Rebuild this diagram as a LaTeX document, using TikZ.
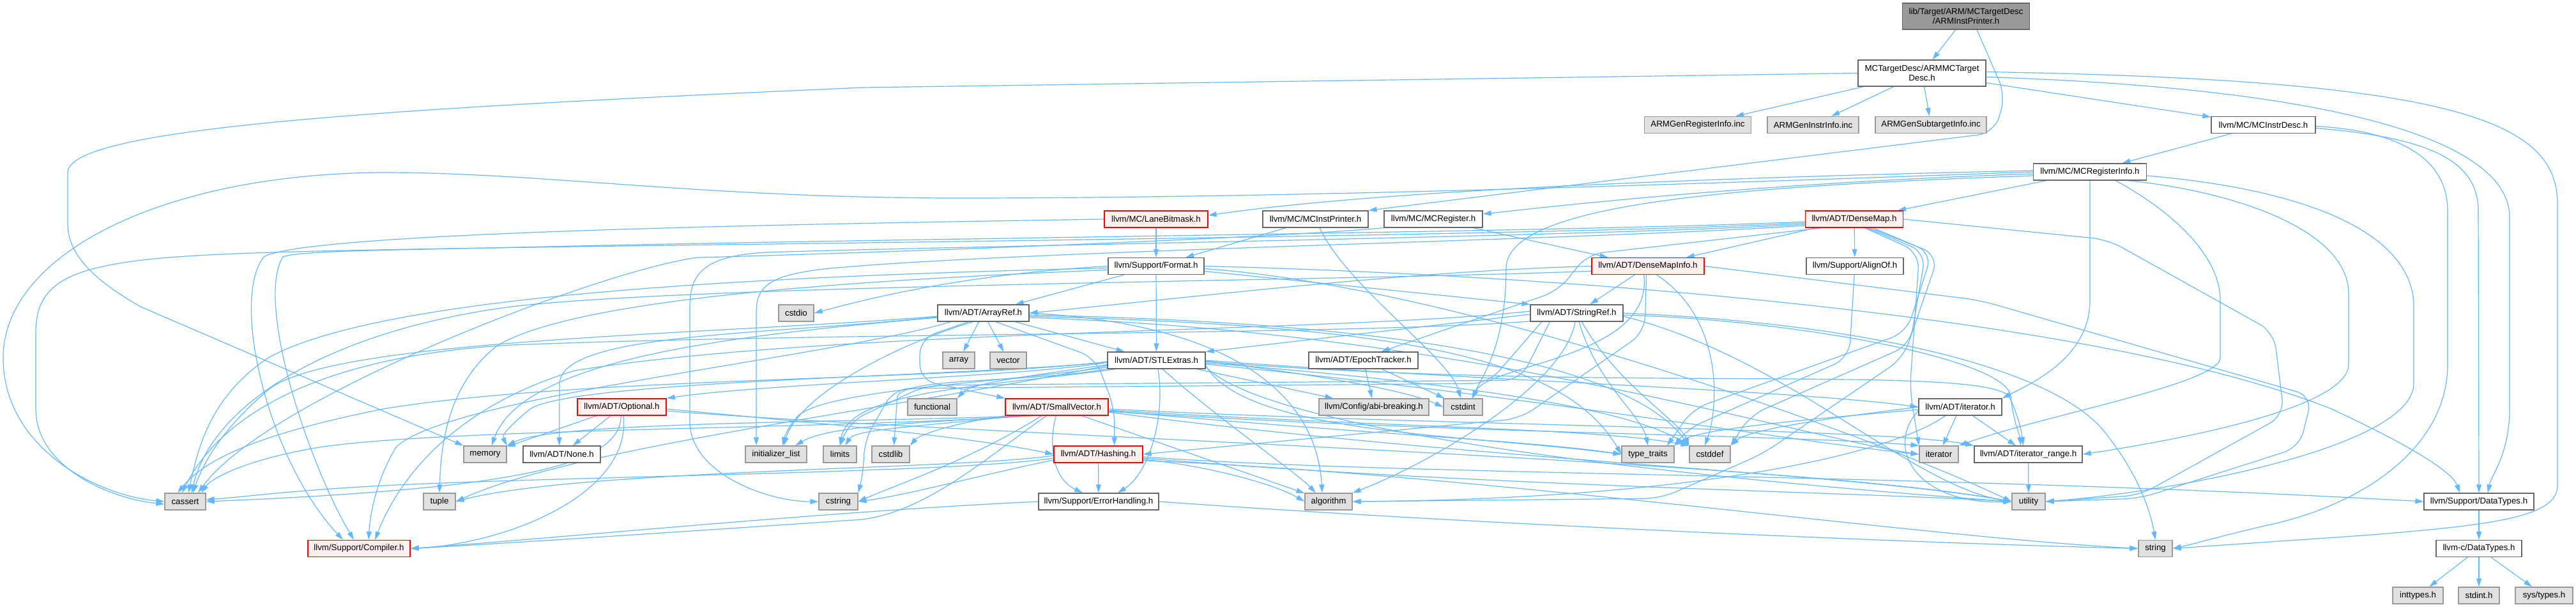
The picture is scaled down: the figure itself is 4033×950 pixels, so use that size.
\documentclass[tikz,border=0pt]{standalone}
\usepackage{fontspec}
\setmainfont{Liberation Sans}
\usetikzlibrary{arrows.meta,backgrounds}
\definecolor{edgeblue}{HTML}{63B8FF}
\definecolor{nodegray}{HTML}{666666}
\definecolor{extgray}{HTML}{999999}
\definecolor{extfill}{HTML}{E0E0E0}
\definecolor{truncfill}{HTML}{FFF0F0}
\definecolor{rootfill}{HTML}{999999}
\newcommand{\dxfont}{\fontsize{13.3pt}{14.6pt}\selectfont}
\tikzset{
  wbox/.style={draw=nodegray, fill=white, line width=1.3pt, minimum height=26pt, inner sep=0pt, font=\dxfont, text=black},
  gbox/.style={wbox, draw=extgray, fill=extfill},
  rbox/.style={wbox, draw=red, fill=truncfill},
  rootbox/.style={wbox, fill=rootfill, minimum height=41pt, align=center},
  twobox/.style={wbox, minimum height=41pt, align=center},
  edg/.style={draw=edgeblue, line width=1.2pt, -{Triangle[length=13pt,width=8pt]}},
  rc/.style={rounded corners=25pt},
}
\begin{document}
\begin{tikzpicture}[x=1pt,y=-1pt]
\useasboundingbox (0,0) rectangle (4033,950);
% ---------- nodes ----------
\node[rootbox, minimum width=199pt] (root) at (3078,25.5) {lib/Target/ARM/MCTargetDesc\\/ARMInstPrinter.h};
\node[twobox, minimum width=200pt] (tdesc) at (3009,114.5) {MCTargetDesc/ARMMCTarget\\Desc.h};
\node[gbox, minimum width=167pt] (genreg) at (2658,195.5) {ARMGenRegisterInfo.inc};
\node[gbox, minimum width=143pt] (geninstr) at (2838.5,195.5) {ARMGenInstrInfo.inc};
\node[gbox, minimum width=174pt] (gensub) at (3023,195.5) {ARMGenSubtargetInfo.inc};
\node[wbox, minimum width=163pt] (instrdesc) at (3543.5,195.5) {llvm/MC/MCInstrDesc.h};
\node[wbox, minimum width=177pt] (reginfo) at (3272,269) {llvm/MC/MCRegisterInfo.h};
\node[rbox, minimum width=162pt] (lanebm) at (1810,343) {llvm/MC/LaneBitmask.h};
\node[wbox, minimum width=165pt] (instprinter) at (2059.5,343) {llvm/MC/MCInstPrinter.h};
\node[wbox, minimum width=154pt] (mcregister) at (2244,343) {llvm/MC/MCRegister.h};
\node[rbox, minimum width=153pt] (densemap) at (2903,343) {llvm/ADT/DenseMap.h};
\node[wbox, minimum width=150pt] (format) at (1810,416.5) {llvm/Support/Format.h};
\node[rbox, minimum width=176pt] (dmi) at (2580,416.5) {llvm/ADT/DenseMapInfo.h};
\node[wbox, minimum width=152pt] (alignof) at (2904,416.5) {llvm/Support/AlignOf.h};
\node[gbox, minimum width=55pt] (cstdio) at (1246.5,490) {cstdio};
\node[wbox, minimum width=143pt] (arrayref) at (1539.5,490) {llvm/ADT/ArrayRef.h};
\node[wbox, minimum width=145pt] (stringref) at (2468.5,490) {llvm/ADT/StringRef.h};
\node[gbox, minimum width=50pt] (array) at (1501,564) {array};
\node[gbox, minimum width=57pt] (vector) at (1578.5,564) {vector};
\node[wbox, minimum width=153pt] (stlextras) at (1810.5,564) {llvm/ADT/STLExtras.h};
\node[wbox, minimum width=171pt] (epoch) at (2134.5,564) {llvm/ADT/EpochTracker.h};
\node[rbox, minimum width=139pt] (optional) at (973.5,637) {llvm/ADT/Optional.h};
\node[gbox, minimum width=77pt] (functional) at (1459.5,637) {functional};
\node[rbox, minimum width=161pt] (smallvector) at (1654.5,637) {llvm/ADT/SmallVector.h};
\node[gbox, minimum width=172pt] (abi) at (2151,637) {llvm/Config/abi-breaking.h};
\node[gbox, minimum width=61pt] (cstdint) at (2290.5,637) {cstdint};
\node[wbox, minimum width=130pt] (iteratorh) at (3069,637) {llvm/ADT/iterator.h};
\node[gbox, minimum width=67pt] (memory) at (759.5,711) {memory};
\node[wbox, minimum width=121pt] (noneh) at (879.5,711) {llvm/ADT/None.h};
\node[gbox, minimum width=96pt] (initlist) at (1215,711) {initializer\_list};
\node[gbox, minimum width=52pt] (limits) at (1315,711) {limits};
\node[gbox, minimum width=59pt] (cstdlib) at (1394.5,711) {cstdlib};
\node[rbox, minimum width=139pt] (hashing) at (1719.5,711) {llvm/ADT/Hashing.h};
\node[gbox, minimum width=82pt] (typetraits) at (2580,711) {type\_traits};
\node[gbox, minimum width=64pt] (cstddef) at (2677,711) {cstddef};
\node[gbox, minimum width=61pt] (iterator) at (3035.5,711) {iterator};
\node[wbox, minimum width=169pt] (iterrange) at (3175.5,711) {llvm/ADT/iterator\_range.h};
\node[gbox, minimum width=64pt] (cassert) at (290,785) {cassert};
\node[gbox, minimum width=50pt] (tuple) at (688,785) {tuple};
\node[gbox, minimum width=61pt] (cstring) at (1312.5,785) {cstring};
\node[wbox, minimum width=188pt] (errorh) at (1720,785) {llvm/Support/ErrorHandling.h};
\node[gbox, minimum width=74pt] (algorithm) at (2080,785) {algorithm};
\node[gbox, minimum width=52pt] (utility) at (3176,785) {utility};
\node[wbox, minimum width=172pt] (datatypes) at (3881,785) {llvm/Support/DataTypes.h};
\node[rbox, minimum width=160pt] (compiler) at (562,858.5) {llvm/Support/Compiler.h};
\node[gbox, minimum width=53pt] (string) at (3374.5,858.5) {string};
\node[wbox, minimum width=134pt] (cdatatypes) at (3881,858.5) {llvm-c/DataTypes.h};
\node[gbox, minimum width=79pt] (inttypes) at (3785.5,932) {inttypes.h};
\node[gbox, minimum width=64pt] (stdint) at (3881,932) {stdint.h};
\node[gbox, minimum width=90pt] (systypes) at (3983,932) {sys/types.h};
% ---------- edges ----------
\begin{pgfonlayer}{background}
% root
\draw[edg] (root) -- (tdesc);
\draw[edg, rc] ([xshift=17pt]root.south) -- (3140,150) -- (3122,208) -- (instprinter.north east);
% ARMMCTargetDesc.h
\draw[edg] (tdesc) -- (genreg);
\draw[edg] (tdesc) -- (geninstr);
\draw[edg] (tdesc) -- (gensub);
\draw[edg] (tdesc) -- (instrdesc);
\draw[edg] ([yshift=-6pt]tdesc.east) .. controls (3700,140) and (3929,230) .. (3929,340) -- (3929,640) .. controls (3929,710) and (3900,745) .. ([xshift=14pt]datatypes.north);
\draw[edg] ([yshift=2pt]tdesc.east) .. controls (3850,125) and (4004,190) .. (4004,320) -- (4004,760) .. controls (4004,810) and (3900,822) .. (3700,838) -- (string.east);
\draw[edg] (tdesc.west) -- (1350,137) .. controls (600,170) and (106,200) .. (106,270) -- (106,350) .. controls (106,400) and (150,440) .. (220,480) -- (memory.north west);
% MCInstrDesc.h
\draw[edg] (instrdesc) -- (reginfo);
\draw[edg] ([yshift=-5pt]instrdesc.east) .. controls (3800,215) and (3880,250) .. (3880,330) -- (datatypes.north);
\draw[edg] ([yshift=-2pt]instrdesc.east) .. controls (3760,205) and (3832,250) .. (3832,330) -- (3832,570) .. controls (3832,700) and (3700,790) .. (3550,822) .. controls (3480,838) and (3440,850) .. (string.east);
% MCRegisterInfo.h
\draw[edg] (reginfo) -- (densemap);
\draw[edg] ([yshift=2pt]reginfo.west) .. controls (2600,280) and (2150,300) .. ([yshift=6pt]lanebm.east);
\draw[edg] ([yshift=-3pt]reginfo.west) .. controls (2800,285) and (2500,315) .. ([yshift=8pt]mcregister.east);
\draw[edg] (reginfo.west) .. controls (2600,290) and (2000,310) .. (1500,310) .. controls (1100,310) and (850,270) .. (600,270) .. controls (250,272) and (5,400) .. (5,560) .. controls (5,700) and (150,775) .. (cassert.west);
\draw[edg] ([yshift=-6pt]reginfo.west) .. controls (2700,292) and (2358,320) .. (2358,420) .. controls (2358,540) and (2320,590) .. ([xshift=14pt]cstdint.north);
\draw[edg] (reginfo.south) -- (3272,470) .. controls (3272,560) and (3180,600) .. (iteratorh.north east);
\draw[edg] ([xshift=40pt]reginfo.south) .. controls (3400,330) and (3476,400) .. (3476,470) -- (3476,560) .. controls (3476,600) and (3200,650) .. (iterator.north east);
\draw[edg] ([xshift=60pt]reginfo.south) .. controls (3500,300) and (3677,360) .. (3677,460) -- (3677,570) .. controls (3677,640) and (3400,690) .. (iterrange.east);
\draw[edg] ([yshift=-6pt]reginfo.east) .. controls (3650,300) and (3779,380) .. (3779,480) -- (3779,600) .. controls (3779,700) and (3400,770) .. (utility.east);
% MCInstPrinter.h
\draw[edg] (instprinter) -- (format);
\draw[edg] (instprinter) .. controls (2110,450) and (2270,560) .. (cstdint);
% LaneBitmask.h
\draw[edg] (lanebm) -- (format);
\draw[edg] (lanebm.west) .. controls (1300,350) and (480,362) .. (413,402) .. controls (360,470) and (420,720) .. ([xshift=-25pt]compiler.north);
% MCRegister.h
\draw[edg] (mcregister) -- (dmi);
\draw[edg] (mcregister.south west) .. controls (2000,372) and (1400,395) .. (1093,403) .. controls (950,420) and (420,620) .. ([xshift=20pt]cassert.north);
% DenseMap.h
\draw[edg] (densemap) -- (dmi);
\draw[edg] (densemap) -- (alignof);
\draw[edg, rc] (densemap.-165) -- (2485,398) -- (2440,455) -- ([xshift=28pt]epoch.north);
\draw[edg] ([yshift=-4pt]densemap.west) .. controls (2500,362) and (1500,372) .. (900,385) .. controls (600,392) and (470,392) .. (443,402) .. controls (400,470) and (480,720) .. ([xshift=-8pt]compiler.north);
\draw[edg] ([yshift=-6pt]densemap.west) .. controls (2500,366) and (1500,378) .. (900,386) .. controls (500,392) and (300,395) .. (200,410) .. controls (100,425) and (56,450) .. (56,520) -- (56,640) .. controls (56,730) and (170,780) .. ([yshift=-4pt]cassert.west);
\draw[edg] ([yshift=-8pt]densemap.west) .. controls (2500,370) and (1500,385) .. (1200,395) .. controls (1100,400) and (1080,430) .. (1080,480) -- (1080,660) .. controls (1080,740) and (1200,785) .. (cstring.west);
\draw[edg] ([yshift=-10pt]densemap.west) .. controls (2500,375) and (1600,392) .. (1300,420) .. controls (1200,430) and (1184,450) .. (1184,490) -- ([xshift=-31pt]initlist.north);
\draw[edg, rc] (densemap.-40) -- (3005,395) -- (2990,610) -- (iterator.north west);
\draw[edg, rc] (densemap.-35) -- (3015,395) -- (2990,540) -- (2740,650) -- (cstddef.north east);
\draw[edg, rc] (densemap.-30) -- (3025,395) -- (2985,520) -- (2650,640) -- ([xshift=30pt]typetraits.north);
\draw[edg, rc] (densemap.-25) -- (3035,400) -- (2980,560) -- (2760,710) -- (2600,780) -- (algorithm.east);
\draw[edg, rc] (densemap.east) -- (3300,375) -- (3560,520) -- (3576,650) -- (3350,775) -- (utility.east);
% DenseMapInfo.h
\draw[edg] (dmi) -- (stringref);
\draw[edg] (dmi.west) .. controls (2200,425) and (1900,462) .. (arrayref.east);
\draw[edg, rc] (dmi.-100) -- (2575,520) -- (2380,655) -- (hashing.east);
\draw[edg] (dmi.-175) .. controls (2100,440) and (1100,445) .. (800,480) .. controls (500,520) and (330,640) .. ([xshift=10pt]cassert.north);
\draw[edg] (dmi.-45) .. controls (2700,500) and (2690,640) .. ([xshift=-8pt]cstddef.north);
\draw[edg] (dmi.-115) .. controls (2590,560) and (2330,570) .. ([xshift=15pt]cstdint.north);
\draw[edg, rc] (dmi.east) -- (3100,470) -- (3620,620) -- (3600,700) -- (3350,780) -- (utility.east);
% AlignOf.h
\draw[edg, rc] (alignof) -- (2895,560) -- (2640,672) -- (typetraits.north east);
% Format.h
\draw[edg] (format) -- (arrayref);
\draw[edg] (format) -- (stlextras);
\draw[edg] ([yshift=-8pt]format.east) -- (stringref.north west);
\draw[edg] (format.west) .. controls (1500,430) and (1350,470) .. (cstdio.east);
\draw[edg] ([yshift=-3pt]format.west) .. controls (1200,432) and (600,460) .. (420,560) .. controls (330,620) and (310,700) .. ([xshift=5pt]cassert.north);
\draw[edg] ([yshift=-6pt]format.west) .. controls (1300,440) and (900,470) .. (780,540) .. controls (700,600) and (690,700) .. (tuple.north);
\draw[edg] (format.east) .. controls (2500,432) and (3300,500) .. (3650,640) .. controls (3780,700) and (3840,740) .. ([xshift=-30pt]datatypes.north);
\draw[edg] ([yshift=-4pt]format.east) .. controls (2300,450) and (2950,690) .. (utility.west);
% ArrayRef.h
\draw[edg] (arrayref) -- (array);
\draw[edg] (arrayref) -- (vector);
\draw[edg] (arrayref) -- (stlextras);
\draw[edg, rc] (arrayref.-35) -- (1715,560) -- (1745,640) -- ([xshift=25pt]hashing.north);
\draw[edg, rc] (arrayref.-150) -- (1440,530) -- (1440,595) -- (smallvector.north west);
\draw[edg] ([yshift=-6pt]arrayref.west) .. controls (1200,525) and (880,520) .. (876,600) -- ([xshift=-4pt]noneh.north);
\draw[edg] (arrayref.-165) .. controls (1300,560) and (700,620) .. (620,700) .. controls (590,750) and (580,800) .. ([xshift=15pt]compiler.north);
\draw[edg] (arrayref.east) .. controls (1900,505) and (2060,600) .. ([xshift=-10pt]algorithm.north);
\draw[edg] ([yshift=-5pt]arrayref.west) .. controls (1100,525) and (520,530) .. (420,610) .. controls (350,670) and (320,720) .. ([xshift=12pt]cassert.north);
\draw[edg] ([yshift=-3pt]arrayref.east) .. controls (2200,505) and (2550,570) .. (cstddef.north west);
\draw[edg] ([yshift=-5pt]arrayref.east) .. controls (2200,510) and (2450,560) .. (typetraits.west);
\draw[edg] (arrayref.-140) .. controls (1400,540) and (1250,620) .. ([xshift=12pt]initlist.north);
\draw[edg] ([yshift=-7pt]arrayref.east) .. controls (2300,520) and (2800,680) .. (iterator.west);
\draw[edg] ([yshift=-7pt]arrayref.west) .. controls (1150,525) and (820,560) .. ([xshift=10pt]memory.north);
% StringRef.h
\draw[edg] ([yshift=-2pt]stringref.west) -- (stlextras.north east);
\draw[edg] ([yshift=-3pt]stringref.east) .. controls (2800,500) and (3140,560) .. (3148,620) .. controls (3152,660) and (3162,680) .. ([xshift=-12pt]iterrange.north);
\draw[edg] ([yshift=3pt]stringref.west) .. controls (2100,520) and (1300,515) .. (900,580) .. controls (700,640) and (620,760) .. ([xshift=25pt]compiler.north);
\draw[edg] (stringref.-100) .. controls (2450,600) and (2250,720) .. (algorithm.north east);
\draw[edg] (stringref.-170) .. controls (2100,525) and (1300,520) .. (800,540) .. controls (450,560) and (330,680) .. ([xshift=-5pt]cassert.north);
\draw[edg] (stringref.-60) .. controls (2530,600) and (2630,660) .. (cstddef.north west);
\draw[edg, rc] (stringref.-166) -- (2330,600) -- (1400,608) -- (1353,690) -- (1352,740) -- (cstring.north east);
\draw[edg, rc] (stringref.-162) -- (2380,595) -- (1450,603) -- (1330,660) -- (limits.north);
\draw[edg] (stringref.east) .. controls (2900,505) and (3200,570) .. (3290,670) .. controls (3340,730) and (3365,790) .. (string.north);
\draw[edg] (stringref.-75) .. controls (2500,600) and (2570,650) .. (typetraits.north);
\draw[edg] ([yshift=-5pt]stringref.east) .. controls (2800,560) and (2990,760) .. (utility.west);
% EpochTracker.h
\draw[edg] (epoch) -- (abi);
\draw[edg] (epoch) -- (cstdint);
% STLExtras.h
\draw[edg] ([yshift=-3pt]stlextras.west) .. controls (1600,590) and (1200,600) .. (optional.north east);
\draw[edg] (stlextras.east) .. controls (2300,595) and (2800,610) .. (iteratorh.west);
\draw[edg] ([yshift=-2pt]stlextras.east) .. controls (2500,615) and (3100,570) .. (3145,620) .. controls (3158,645) and (3165,675) .. ([xshift=-8pt]iterrange.north);
\draw[edg] (stlextras) -- (abi);
\draw[edg] (stlextras.-80) .. controls (1825,650) and (1800,740) .. ([xshift=30pt]errorh.north);
\draw[edg] (stlextras.-55) .. controls (1900,650) and (2030,740) .. ([xshift=-20pt]algorithm.north);
\draw[edg] ([yshift=-2pt]stlextras.west) .. controls (1500,595) and (900,590) .. (600,640) .. controls (400,680) and (320,720) .. ([xshift=-12pt]cassert.north);
\draw[edg] ([yshift=-4pt]stlextras.east) .. controls (2300,600) and (2550,640) .. (cstddef.north west);
\draw[edg] ([yshift=-1pt]stlextras.east) .. controls (2050,585) and (2200,610) .. (cstdint.west);
\draw[edg] (stlextras.-170) .. controls (1600,600) and (1420,590) .. (1405,620) -- ([xshift=5pt]cstdlib.north);
\draw[edg] (stlextras.-175) .. controls (1600,590) and (1520,600) .. (functional.north east);
\draw[edg] (stlextras.-172) .. controls (1550,600) and (1300,610) .. (1250,650) .. controls (1232,670) and (1228,685) .. ([xshift=10pt]initlist.north);
\draw[edg] ([yshift=-6pt]stlextras.east) .. controls (2400,620) and (2800,690) .. (iterator.west);
\draw[edg] (stlextras.-168) .. controls (1550,605) and (1330,610) .. (limits.north);
\draw[edg] (stlextras.-178) .. controls (1500,590) and (900,595) .. (830,640) .. controls (800,665) and (785,680) .. (memory.north east);
\draw[edg] (stlextras.-174) .. controls (1400,640) and (900,700) .. (tuple.east);
\draw[edg] ([yshift=-8pt]stlextras.east) .. controls (1950,680) and (2300,680) .. (typetraits.west);
\draw[edg] ([yshift=-10pt]stlextras.east) .. controls (2000,690) and (2800,760) .. (utility.west);
% Optional.h
\draw[edg] (optional) -- (memory);
\draw[edg] (optional) -- (noneh);
\draw[edg] (optional.-95) .. controls (972,730) and (800,765) .. (cassert.east);
\draw[edg] (optional.-80) .. controls (990,770) and (800,850) .. (compiler.east);
\draw[edg] ([yshift=-3pt]optional.east) .. controls (1250,660) and (1500,680) .. (hashing.west);
\draw[edg] ([yshift=-6pt]optional.east) .. controls (1500,680) and (2800,720) .. (utility.west);
% SmallVector.h
\draw[edg] ([yshift=-3pt]smallvector.east) .. controls (2200,665) and (2950,670) .. (iterrange.north west);
\draw[edg] (smallvector.-140) .. controls (1540,720) and (1450,800) .. (1350,813) .. controls (1100,830) and (800,850) .. (compiler.east);
\draw[edg] (smallvector.-95) .. controls (1640,700) and (1650,750) .. ([xshift=-25pt]errorh.north);
\draw[edg] (smallvector) -- (algorithm);
\draw[edg] (smallvector.-160) .. controls (1300,672) and (700,670) .. (500,700) .. controls (380,720) and (330,750) .. ([xshift=25pt]cassert.north);
\draw[edg] ([yshift=-5pt]smallvector.east) .. controls (2200,670) and (2500,670) .. (cstddef.north west);
\draw[edg] ([yshift=-7pt]smallvector.east) .. controls (2300,680) and (2800,680) .. (iterator.north west);
\draw[edg] ([yshift=-6pt]smallvector.east) .. controls (2150,680) and (2400,690) .. (typetraits.west);
\draw[edg] ([yshift=-8pt]smallvector.east) .. controls (2300,720) and (2900,740) .. (utility.west);
\draw[edg] (smallvector.-170) .. controls (1500,660) and (1440,680) .. (cstdlib.north east);
\draw[edg] (smallvector.-150) .. controls (1520,720) and (1400,760) .. (cstring.east);
\draw[edg] (smallvector.-165) .. controls (1450,662) and (1300,665) .. ([xshift=30pt]initlist.north);
\draw[edg] (smallvector.-168) .. controls (1480,665) and (1340,670) .. ([xshift=8pt]limits.north);
\draw[edg] (smallvector.-162) .. controls (1300,662) and (870,660) .. (memory.north east);
% Hashing.h
\draw[edg] (hashing) -- (errorh);
\draw[edg] ([yshift=-4pt]hashing.east) .. controls (2200,745) and (3000,740) .. (datatypes.west);
\draw[edg] ([yshift=-8pt]hashing.east) .. controls (1900,730) and (2000,760) .. (algorithm.west);
\draw[edg] ([yshift=-6pt]hashing.west) .. controls (1500,740) and (900,745) .. (600,760) .. controls (450,768) and (380,778) .. ([yshift=3pt]cassert.east);
\draw[edg] ([yshift=-9pt]hashing.west) .. controls (1550,740) and (1420,775) .. (cstring.east);
\draw[edg] ([yshift=-10pt]hashing.east) .. controls (2300,740) and (3000,840) .. (string.west);
\draw[edg] ([yshift=-2pt]hashing.west) .. controls (1500,735) and (900,735) .. (tuple.east);
\draw[edg] ([yshift=-6pt]hashing.east) .. controls (2300,760) and (2900,770) .. (utility.west);
% ErrorHandling.h
\draw[edg] (errorh.west) .. controls (1300,800) and (900,840) .. (compiler.east);
\draw[edg] (errorh.east) .. controls (2300,820) and (3000,850) .. (string.west);
% iterator.h
\draw[edg] (iteratorh) -- (iterrange);
\draw[edg] (iteratorh) -- (iterator);
\draw[edg] (iteratorh.-150) .. controls (2980,700) and (2700,780) .. (algorithm.east);
\draw[edg] (iteratorh.west) .. controls (2900,650) and (2740,670) .. (cstddef.north east);
\draw[edg] ([yshift=-4pt]iteratorh.west) .. controls (2850,655) and (2660,670) .. (typetraits.north east);
\draw[edg] ([yshift=-6pt]iteratorh.west) .. controls (2950,700) and (3000,790) .. (utility.west);
% iterator_range.h
\draw[edg] (iterrange) -- (utility);
% DataTypes
\draw[edg] (datatypes) -- (cdatatypes);
\draw[edg] (cdatatypes) -- (inttypes);
\draw[edg] (cdatatypes) -- (stdint);
\draw[edg] (cdatatypes) -- (systypes);
\end{pgfonlayer}
\end{tikzpicture}
\end{document}
